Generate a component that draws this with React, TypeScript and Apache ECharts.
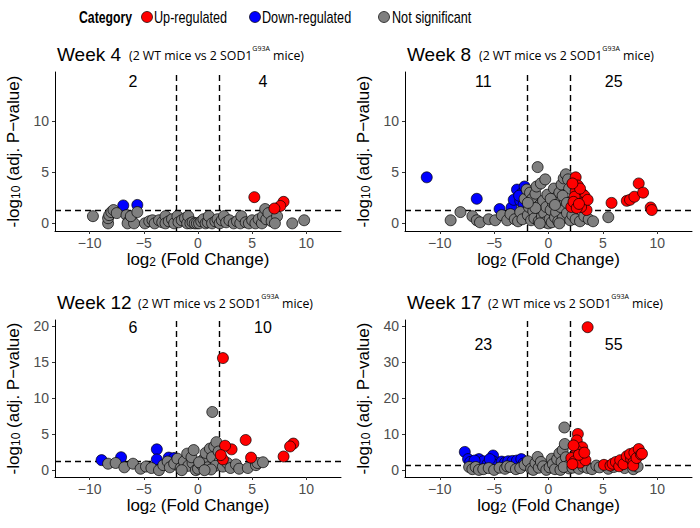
import React, { useEffect, useRef } from "react";
import * as echarts from "echarts";

const FONT = "'Liberation Sans', Arial, Helvetica, sans-serif";
const SUBFONT = "'Open Sans', 'Noto Sans', sans-serif";

const panelTitles = ["Week 4", "Week 8", "Week 12", "Week 17"];
const downCounts = [2, 11, 6, 23];
const upCounts = [4, 25, 10, 55];
const countLabelY = [13.9, 13.9, 19.8, 35];
const countLabelX = [-6, 6];
const yMins = [-0.75, -0.75, -0.95, -1.98];
const yMaxs = [14.8, 14.8, 20.9, 41.7];
const yTicks = [[0, 5, 10], [0, 5, 10], [0, 5, 10, 15, 20], [0, 10, 20, 30, 40]];
const xTicks = [-10, -5, 0, 5, 10];
const xLimit = 13.2;
const fcCut = 2;
const pCut = 1.3;

const week4Down = [[-6.9, 1.75], [-5.6, 1.8]];
const week4Up = [[5.2, 2.56], [7.9, 2.1], [7.6, 1.7], [7.05, 1.45]];
const week4NotSig = [
  [-9.7, 0.7], [-8.3, 0.0], [-8.3, 0.5], [-8.2, 0.8], [-8.0, 1.1], [-7.8, 1.3], [-7.5, 1.0],
  [-6.6, 0.8], [-6.4, 0.2], [-6.5, 0.0], [-5.9, 0.0], [-6.2, 0.7], [-5.6, 1.1], [-4.9, 0.0],
  [-4.5, 0.2], [-4.2, 0.3], [-4.0, 0.0], [-3.6, 0.3], [-3.3, 0.1], [-3.0, 0.7], [-3.0, 0.0],
  [-2.7, 0.2], [-2.4, 0.4], [-2.2, 0.0], [-1.9, 0.7], [-1.8, 0.1], [-1.5, 0.3], [-1.2, 0.5],
  [-1.0, 0.0], [-0.9, 0.7], [-0.7, 0.0], [-0.5, 0.1], [-0.3, 0.0], [-0.1, 0.0], [0.1, 0.0],
  [0.3, 0.2], [0.5, 0.4], [0.7, 0.0], [0.9, 0.1], [1.0, 0.7], [1.3, 0.0], [1.6, 0.2],
  [1.8, 0.4], [2.0, 0.0], [2.2, 0.3], [2.4, 0.7], [2.6, 0.1], [2.9, 0.3], [3.3, 0.0],
  [3.6, 0.2], [3.9, 0.0], [4.0, 0.7], [4.4, 0.1], [4.7, 0.0], [5.0, 0.3], [5.3, 0.0],
  [5.6, 0.4], [5.9, 0.0], [6.0, 0.7], [6.2, 1.4], [6.3, 0.4], [6.5, 1.0], [6.8, 0.2],
  [7.3, 0.7], [7.1, 0.0], [8.7, 0.0], [9.8, 0.3]
];

const week8Down = [
  [-11.2, 4.5], [-6.6, 2.4], [-4.5, 1.4], [-3.4, 1.55], [-3.2, 2.3], [-2.9, 3.3],
  [-2.4, 3.0], [-2.6, 2.2], [-2.3, 1.8], [-2.7, 2.7], [-2.2, 3.6]
];
const week8Up = [
  [2.5, 4.5], [2.7, 3.7], [3.1, 2.9], [3.3, 2.7], [2.5, 3.1], [2.7, 2.2], [3.2, 2.0],
  [3.5, 1.3], [2.1, 1.6], [2.4, 2.6], [2.9, 3.4], [2.3, 2.1], [3.0, 1.6], [5.8, 2.0],
  [7.2, 2.2], [7.5, 2.3], [7.9, 2.6], [8.3, 3.9], [8.7, 3.0], [9.4, 1.55], [9.5, 1.3],
  [2.2, 3.9], [2.6, 1.5], [3.6, 2.3], [2.8, 1.9]
];
const week8NotSig = [
  [-9.0, 0.3], [-8.1, 1.1], [-7.0, 0.7], [-6.6, 0.3], [-6.3, 0.1], [-5.5, 0.4], [-4.9, 0.3],
  [-4.3, 0.8], [-3.8, 0.3], [-3.5, 0.9], [-3.1, 0.4], [-2.8, 0.2], [-2.6, 1.1], [-2.4, 0.4],
  [-2.2, 2.4], [-2.0, 3.3], [-1.9, 0.8], [-1.8, 1.6], [-1.7, 3.0], [-1.6, 0.3], [-1.5, 2.4],
  [-1.4, 1.2], [-1.3, 0.5], [-1.2, 2.9], [-1.1, 3.6], [-1.0, 5.5], [-0.9, 0.2], [-0.8, 1.8],
  [-0.7, 3.9], [-0.6, 0.7], [-0.5, 2.2], [-0.4, 1.0], [-0.3, 0.1], [-0.2, 1.6], [-0.1, 2.8],
  [0.0, 0.0], [0.1, 0.4], [0.2, 1.3], [0.3, 0.1], [0.4, 2.0], [0.5, 3.4], [0.6, 0.6],
  [0.7, 1.1], [0.8, 2.6], [0.9, 0.2], [1.0, 3.0], [1.1, 1.6], [1.2, 3.8], [1.3, 0.5],
  [1.4, 4.4], [1.5, 2.2], [1.6, 4.8], [1.7, 1.0], [1.8, 4.3], [1.9, 3.4], [2.0, 0.3],
  [2.2, 0.8], [2.5, 0.4], [2.9, 0.2], [3.3, 0.7], [3.7, 0.4], [4.1, 0.2], [5.5, 0.6],
  [-0.3, 4.3], [0.2, 2.4], [-1.2, 1.5], [0.6, 1.8], [1.3, 2.7], [-0.8, 0.0], [1.0, 0.0],
  [-1.9, 2.0], [1.7, 2.0]
];

const week12Down = [[-8.9, 1.4], [-7.1, 1.8], [-3.8, 2.9], [-3.8, 1.5], [-2.7, 1.75], [-2.2, 1.7]];
const week12Up = [
  [2.3, 15.6], [4.4, 4.2], [3.1, 2.9], [2.5, 3.4], [8.8, 3.7], [8.5, 3.3], [7.9, 1.9],
  [4.9, 1.75], [2.3, 1.5], [2.1, 2.1]
];
const week12NotSig = [
  [-8.3, 0.9], [-7.6, 1.0], [-6.8, 0.4], [-6.0, 0.9], [-5.3, 0.2], [-4.8, 0.5], [-4.3, 0.3],
  [-3.6, 0.0], [-3.2, 0.7], [-2.8, 1.2], [-2.6, 0.4], [-2.2, 0.9], [-1.9, 1.6], [-1.6, 0.3],
  [-1.3, 1.2], [-1.0, 2.3], [-0.9, 0.6], [-0.5, 1.0], [-0.2, 0.0], [0.0, 0.2], [0.3, 0.8],
  [0.5, 1.5], [0.7, 2.4], [0.9, 0.4], [1.1, 3.0], [1.3, 1.8], [1.5, 3.3], [1.7, 3.9],
  [1.9, 2.6], [2.0, 1.2], [1.6, 0.6], [1.2, 0.1], [2.3, 0.5], [2.7, 1.0], [3.0, 0.3],
  [3.5, 0.8], [3.8, 0.2], [4.6, 0.3], [5.35, 0.7], [5.5, 1.0], [6.0, 1.1], [-0.6, 1.8],
  [0.1, 1.1], [-1.5, 0.0], [0.6, 0.0], [-0.4, 2.8], [1.32, 8.1]
];

const week17Down = [
  [-7.7, 5.0], [-7.4, 3.0], [-7.2, 2.2], [-6.4, 3.0], [-6.3, 1.9], [-6.0, 2.4], [-5.6, 1.7],
  [-5.1, 4.0], [-5.1, 2.4], [-4.8, 1.4], [-4.3, 2.3], [-4.0, 2.0], [-3.7, 2.4], [-3.3, 2.5],
  [-2.9, 2.6], [-2.5, 3.0], [-2.3, 1.8], [-6.8, 2.6], [-5.4, 3.0]
];
const week17Up = [
  [3.6, 39.7], [2.7, 10.0], [2.6, 8.2], [3.1, 6.3], [2.6, 5.3], [3.2, 3.6], [2.1, 3.3],
  [2.4, 2.4], [2.9, 2.0], [3.4, 2.7], [2.2, 1.6], [2.8, 4.2], [3.3, 4.8], [2.3, 6.8],
  [5.1, 1.4], [5.7, 1.2], [5.9, 1.7], [6.2, 2.2], [6.5, 1.0], [6.6, 2.7], [6.9, 1.6],
  [7.2, 3.8], [7.6, 3.0], [7.5, 4.4], [7.9, 4.8], [7.8, 2.0], [7.8, 1.2], [8.1, 3.3],
  [8.3, 5.8], [8.5, 4.3], [8.6, 4.5]
];
const week17NotSig = [
  [-7.3, 0.8], [-7.0, 0.2], [-6.7, 0.8], [-6.4, 0.0], [-6.0, 0.2], [-5.5, 0.5], [-5.0, 0.0],
  [-4.5, 0.6], [-4.0, 0.3], [-3.8, 1.0], [-3.5, 0.8], [-3.0, 0.2], [-2.6, 0.5], [-2.2, 1.4],
  [-1.9, 2.4], [-1.6, 0.3], [-1.4, 0.0], [-1.2, 1.9], [-1.0, 3.6], [-0.9, 0.6], [-0.7, 2.2],
  [-0.5, 1.0], [-0.2, 0.0], [0.1, 0.7], [0.3, 3.1], [0.4, 1.6], [0.6, 0.2], [0.8, 3.0],
  [1.0, 4.6], [1.1, 0.0], [1.2, 2.2], [1.3, 5.5], [1.5, 7.2], [1.46, 11.8], [1.6, 3.5],
  [1.8, 1.2], [1.9, 0.4], [1.4, 0.8], [2.2, 0.6], [2.5, 1.3], [2.8, 0.3], [3.2, 0.9],
  [3.6, 0.5], [4.0, 0.2], [4.4, 1.2], [4.7, 0.7], [5.5, 0.3], [6.0, 0.8], [7.0, 0.5],
  [7.8, 0.2], [8.2, 0.9]
];

const notSigData = [week4NotSig, week8NotSig, week12NotSig, week17NotSig];
const downData = [week4Down, week8Down, week12Down, week17Down];
const upData = [week4Up, week8Up, week12Up, week17Up];

const legendNames = ["Up-regulated", "Down-regulated", "Not significant"];
const colors = { up: "#FF0000", down: "#0000FF", ns: "#7F7F7F" };

const grids = [
  { left: 55, top: 72, width: 286, height: 159 },
  { left: 405, top: 72, width: 287, height: 159 },
  { left: 55, top: 320, width: 286, height: 157 },
  { left: 405, top: 320, width: 287, height: 157 },
];

const fmtNum = (v: number) => (v < 0 ? "\u2212" + Math.abs(v) : String(v));

const nameRich = {
  a: { fontSize: 17, fontFamily: FONT, color: "#000", lineHeight: 20, verticalAlign: "bottom" },
  b: { fontSize: 12, fontFamily: FONT, color: "#000", lineHeight: 8, verticalAlign: "bottom" },
};

export default function App() {
  const ref = useRef<HTMLDivElement>(null);
  useEffect(() => {
    if (!ref.current) return;
    const chart = echarts.init(ref.current, undefined, { renderer: "svg" });

    const xAxes: any[] = [];
    const yAxes: any[] = [];
    const series: any[] = [];
    const graphics: any[] = [];

    grids.forEach((g, i) => {
      xAxes.push({
        type: "value",
        gridIndex: i,
        min: -xLimit,
        max: xLimit,
        name: "{a|log}{b|2}{a| (Fold Change)}",
        nameLocation: "middle",
        nameGap: 16,
        nameTextStyle: { rich: nameRich },
        axisLine: { show: true, onZero: false, lineStyle: { color: "#000", width: 1 } },
        axisTick: { show: true, length: 3, customValues: xTicks, lineStyle: { color: "#333" } },
        axisLabel: {
          customValues: xTicks,
          formatter: (v: number) => fmtNum(v),
          color: "#4D4D4D",
          fontSize: 14,
          fontFamily: FONT,
          margin: 5,
        },
        splitLine: { show: false },
      });
      yAxes.push({
        type: "value",
        gridIndex: i,
        min: yMins[i],
        max: yMaxs[i],
        name: "{a|-log}{b|10}{a| (adj. P\u2212value)}",
        nameLocation: "middle",
        nameGap: 33,
        nameTextStyle: { rich: nameRich },
        axisLine: { show: true, onZero: false, lineStyle: { color: "#000", width: 1 } },
        axisTick: { show: true, length: 3, customValues: yTicks[i], lineStyle: { color: "#333" } },
        axisLabel: {
          customValues: yTicks[i],
          formatter: (v: number) => fmtNum(v),
          color: "#4D4D4D",
          fontSize: 14,
          fontFamily: FONT,
          margin: 6,
        },
        splitLine: { show: false },
      });

      const pointStyle = (c: string) => ({ color: c, borderColor: "#000", borderWidth: 0.7, opacity: 1 });

      series.push({
        type: "scatter",
        xAxisIndex: i,
        yAxisIndex: i,
        data: [],
        z: 1,
        markLine: {
          silent: true,
          symbol: "none",
          z: 1,
          label: { show: false },
          lineStyle: { color: "#000", type: [6, 4], width: 1.4, opacity: 1 },
          data: [{ xAxis: -fcCut }, { xAxis: fcCut }, { yAxis: pCut }],
        },
      });
      series.push({
        name: legendNames[1],
        type: "scatter",
        xAxisIndex: i,
        yAxisIndex: i,
        symbolSize: 11,
        z: 2,
        itemStyle: pointStyle(colors.down),
        data: downData[i],
      });
      series.push({
        name: legendNames[2],
        type: "scatter",
        xAxisIndex: i,
        yAxisIndex: i,
        symbolSize: 11,
        z: 2,
        itemStyle: pointStyle(colors.ns),
        data: notSigData[i],
      });
      series.push({
        name: legendNames[0],
        type: "scatter",
        xAxisIndex: i,
        yAxisIndex: i,
        symbolSize: 11,
        z: 3,
        itemStyle: pointStyle(colors.up),
        data: upData[i],
      });
      series.push({
        type: "scatter",
        xAxisIndex: i,
        yAxisIndex: i,
        symbolSize: 0,
        z: 4,
        silent: true,
        itemStyle: { color: "rgba(0,0,0,0)", borderWidth: 0, opacity: 1 },
        label: {
          show: true,
          position: "inside",
          formatter: (p: any) => p.name,
          fontSize: 16,
          fontFamily: FONT,
          color: "#000",
          opacity: 1,
          textBorderWidth: 0,
        },
        data: [
          { name: String(downCounts[i]), value: [countLabelX[0], countLabelY[i]] },
          { name: String(upCounts[i]), value: [countLabelX[1], countLabelY[i]] },
        ],
      });

      graphics.push({
        type: "text",
        x: g.left + 2,
        y: g.top - 18,
        style: {
          text: panelTitles[i],
          font: `19px ${FONT}`,
          fill: "#000",
          verticalAlign: "middle",
          align: "left",
        },
      });
      graphics.push({
        type: "text",
        x: g.left + (i < 2 ? 74 : 83),
        y: g.top - 19,
        style: {
          text: "{s|(2 WT mice vs 2 SOD1}{u|G93A}{s| mice)}",
          verticalAlign: "middle",
          align: "left",
          rich: {
            s: { fontSize: 12.3, fontFamily: SUBFONT, fill: "#000", lineHeight: 16, verticalAlign: "bottom" },
            u: { fontSize: 7, fontFamily: SUBFONT, fill: "#000", lineHeight: 12, verticalAlign: "top" },
          },
        },
      });
    });

    // Legend
    const legendY = 17;
    graphics.push({
      type: "text",
      x: 79,
      y: legendY,
      scaleX: 0.765,
      style: { text: "Category", font: `bold 16px ${FONT}`, fill: "#000", verticalAlign: "middle" },
    });
    const legendItems = [
      { cx: 147, tx: 154, color: colors.up, label: legendNames[0] },
      { cx: 255, tx: 262, color: colors.down, label: legendNames[1] },
      { cx: 384, tx: 392, color: colors.ns, label: legendNames[2] },
    ];
    legendItems.forEach((it) => {
      graphics.push({
        type: "circle",
        shape: { cx: it.cx, cy: legendY, r: 5.5 },
        style: { fill: it.color, stroke: "#000", lineWidth: 0.7 },
      });
      graphics.push({
        type: "text",
        x: it.tx,
        y: legendY,
        scaleX: 0.79,
        style: { text: it.label, font: `16px ${FONT}`, fill: "#000", verticalAlign: "middle" },
      });
    });

    chart.setOption({
      animation: false,
      backgroundColor: "#fff",
      grid: grids.map((g) => ({ ...g, containLabel: false })),
      xAxis: xAxes,
      yAxis: yAxes,
      series,
      graphic: graphics,
    });

    return () => chart.dispose();
  }, []);

  return (
    <div
      ref={ref}
      style={{ position: "fixed", left: 0, top: 0, width: 700, height: 528, background: "#fff" }}
    />
  );
}
